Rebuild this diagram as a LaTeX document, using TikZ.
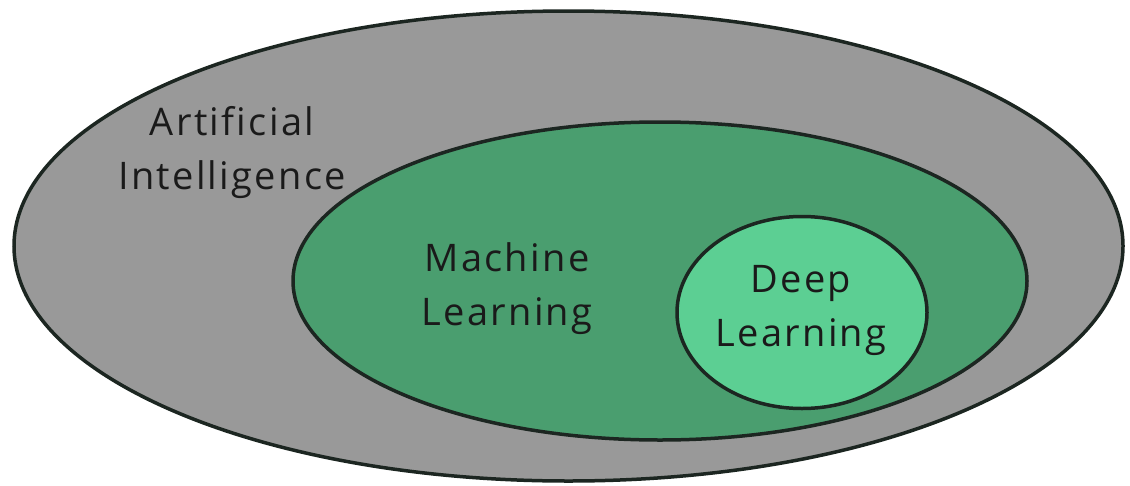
\documentclass[tikz,border=0pt]{standalone}
\usepackage{fontspec}
\setmainfont[Ligatures=NoCommon, LetterSpace=6]{Open Sans}
\usetikzlibrary{shapes.geometric}
\definecolor{aigray}{HTML}{999999}
\definecolor{mlgreen}{HTML}{4A9E6F}
\definecolor{dlgreen}{HTML}{5CCF93}
\definecolor{rim}{HTML}{1C2621}
\definecolor{ink}{HTML}{1A1A1A}
\tikzset{
  region/.style={ellipse, draw=rim, line width=3.5pt, inner sep=0pt},
  label/.style={align=center, text=ink, font=\fontsize{38}{54}\selectfont, inner sep=0pt}
}
\begin{document}
\begin{tikzpicture}[x=1pt, y=-1pt]
  \useasboundingbox (0,0) rectangle (1130,485);
  \fill[white] (0,0) rectangle (1130,485);
  % nested fields
  \node[region, fill=aigray, minimum width=1109pt, minimum height=470pt] (ai) at (568.5,246) {};
  \node[region, fill=mlgreen, minimum width=734pt, minimum height=318pt] (ml) at (660,281) {};
  \node[region, fill=dlgreen, minimum width=250pt, minimum height=192pt] (dl) at (802,312.5) {};
  % field names
  \node[label] (ailabel) at (232,152.5) {Artificial\\Intelligence};
  \node[label] (mllabel) at (507,289) {Machine\\Learning};
  \node[label] (dllabel) at (801,310) {Deep\\Learning};
\end{tikzpicture}
\end{document}
